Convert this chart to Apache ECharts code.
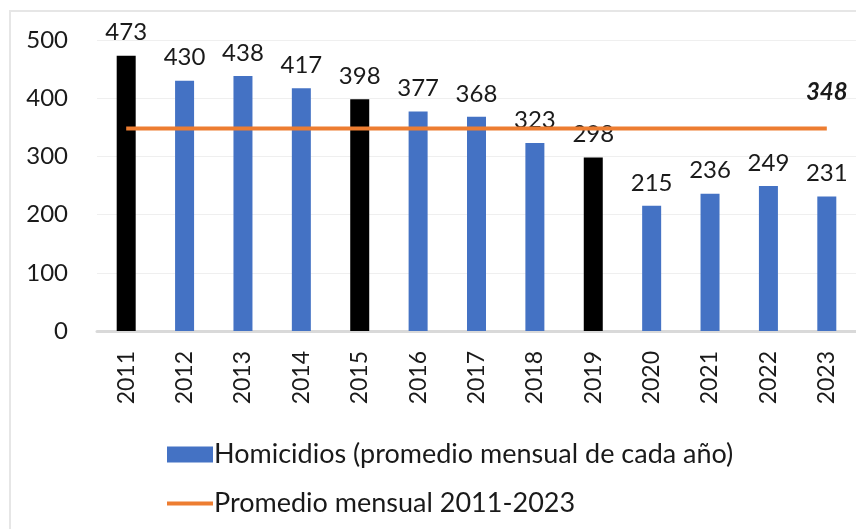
<!DOCTYPE html>
<html>
<head>
<meta charset="utf-8">
<script src="https://cdn.jsdelivr.net/npm/echarts@6/dist/echarts.min.js"></script>
<style>
    html, body { margin: 0; padding: 0; background: #fff; }
    #chart { width: 856px; height: 529px; }
</style>
</head>
<body>
<div id="chart"></div>
<script>
// años y promedio mensual de homicidios
const years = ['2011', '2012', '2013', '2014', '2015', '2016', '2017', '2018', '2019', '2020', '2021', '2022', '2023']
const homicidios = [473, 430, 438, 417, 398, 377, 368, 323, 298, 215, 236, 249, 231]
const promedio = [348, 348, 348, 348, 348, 348, 348, 348, 348, 348, 348, 348, 348]
const blackYears = ['2011', '2015', '2019']
const yTicks = [0, 100, 200, 300, 400, 500]

const FONT = 'Lato'
const BLUE = '#4472C4'
const ORANGE = '#ED7D31'

let chart = echarts.init(document.getElementById('chart'))

let option = {
    animation: false,
    textStyle: { fontFamily: FONT },
    graphic: [
        {
            type: 'rect',
            shape: { x: 10, y: 11, width: 900, height: 600 },
            style: { fill: 'none', stroke: '#e6e6e6', lineWidth: 2 },
            silent: true
        }
    ],
    grid: {
        left: 97,
        right: 0,
        top: 40,
        bottom: 198
    },
    legend: {
        orient: 'vertical',
        left: 162,
        top: 436,
        itemWidth: 46,
        itemHeight: 16,
        itemGap: 22,
        textStyle: { fontFamily: FONT, fontSize: 27, color: '#1a1a1a', padding: [0, 0, 0, -4] },
        data: [
            { name: 'Homicidios (promedio mensual de cada año)', icon: 'rect', itemStyle: { color: BLUE } },
            { name: 'Promedio mensual 2011-2023', icon: 'path://M0,0H46V4H0Z', itemStyle: { color: ORANGE } }
        ]
    },
    xAxis: {
        type: 'category',
        data: years,
        axisLine: { lineStyle: { color: '#d9d9d9', width: 3 } },
        axisTick: { show: false },
        axisLabel: {
            rotate: 90,
            margin: 20,
            fontFamily: FONT,
            fontSize: 23,
            color: '#1a1a1a'
        }
    },
    yAxis: {
        type: 'value',
        min: yTicks[0],
        max: yTicks[yTicks.length - 1],
        interval: 100,
        axisLine: { show: false },
        axisTick: { show: false },
        splitLine: { lineStyle: { color: '#efefef', width: 1 } },
        axisLabel: {
            margin: 29,
            fontFamily: FONT,
            fontSize: 24,
            color: '#1a1a1a'
        }
    },
    series: [
        {
            name: 'Homicidios (promedio mensual de cada año)',
            type: 'bar',
            barWidth: 19,
            data: homicidios.map((v, i) => ({
                value: v,
                itemStyle: { color: blackYears.includes(years[i]) ? '#000' : BLUE }
            })),
            label: {
                show: true,
                position: 'top',
                distance: 11,
                fontFamily: FONT,
                fontSize: 24,
                color: '#1a1a1a'
            },
            z: 2
        },
        {
            // la línea va encima de las etiquetas, como en el original
            name: 'Promedio mensual 2011-2023',
            type: 'line',
            zlevel: 1,
            symbol: 'circle',
            symbolSize: 0,
            showSymbol: true,
            data: promedio.map((v, i) => ({
                value: v,
                label: {
                    show: i === promedio.length - 1,
                    position: 'top',
                    distance: 24,
                    fontFamily: FONT,
                    fontSize: 24,
                    fontWeight: 'bold',
                    fontStyle: 'italic',
                    color: '#1a1a1a'
                }
            })),
            lineStyle: { color: ORANGE, width: 4 },
            itemStyle: { color: ORANGE },
            z: 3
        }
    ]
}

chart.setOption(option)
</script>
</body>
</html>
